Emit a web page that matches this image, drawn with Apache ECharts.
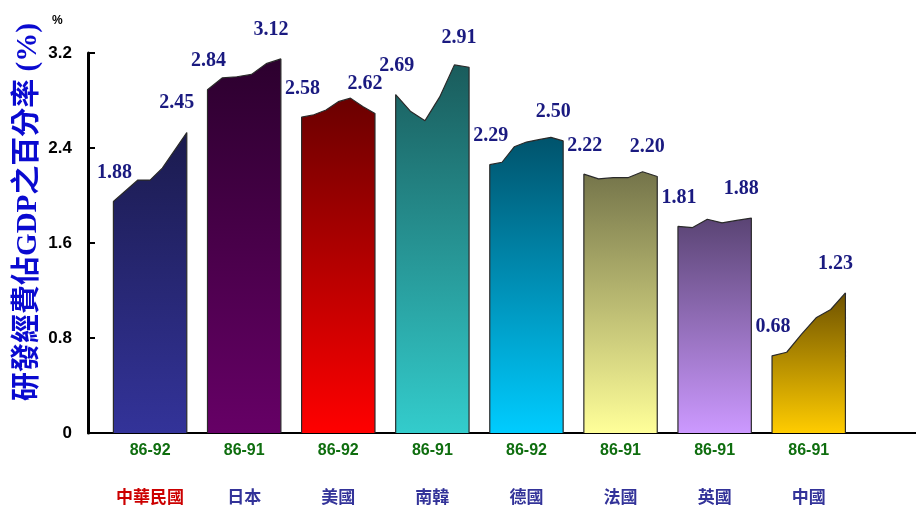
<!DOCTYPE html>
<html><head><meta charset="utf-8">
<script src="https://cdn.jsdelivr.net/npm/echarts@6/dist/echarts.min.js"></script>
<style>html,body{margin:0;padding:0;background:#fff}#c{width:916px;height:506px}</style>
</head><body><div id="c"></div>
<script>
// ---- data ----
const countries = ['中華民國', '日本', '美國', '南韓', '德國', '法國', '英國', '中國'];
const periods = ['86-92', '86-91', '86-92', '86-91', '86-92', '86-91', '86-91', '86-91'];
const twValues = [1.95, 2.04, 2.13, 2.13, 2.23, 2.38, 2.53];
const jpValues = [2.89, 2.99, 3.00, 3.02, 3.11, 3.15];
const usValues = [2.66, 2.68, 2.72, 2.79, 2.82, 2.75, 2.69];
const krValues = [2.85, 2.71, 2.63, 2.83, 3.10, 3.08];
const deValues = [2.26, 2.28, 2.41, 2.45, 2.47, 2.49, 2.46];
const frValues = [2.18, 2.14, 2.15, 2.15, 2.20, 2.16];
const ukValues = [1.74, 1.73, 1.80, 1.77, 1.79, 1.81];
const cnValues = [0.65, 0.68, 0.83, 0.97, 1.04, 1.18];
const firstLabels = ['1.88', '2.84', '2.58', '2.69', '2.29', '2.22', '1.81', '0.68'];
const lastLabels = ['2.45', '3.12', '2.62', '2.91', '2.50', '2.20', '1.88', '1.23'];
const yTicks = [0, 0.8, 1.6, 2.4, 3.2];

// ---- styles ----
const topColors = ['#1b1b4e', '#2c002e', '#6a0000', '#1a5c5c', '#00536c', '#74744a', '#5a4474', '#6e5200'];
const bottomColors = ['#333399', '#660066', '#ff0000', '#33cccc', '#00ccff', '#ffff99', '#cc99ff', '#ffcc00'];
const allValues = [twValues, jpValues, usValues, krValues, deValues, frValues, ukValues, cnValues];
const HALF = 0.39;

const series = allValues.map((vals, i) => {
  const n = vals.length;
  const xs = vals.map((_, k) => i - HALF + (2 * HALF * k) / (n - 1));
  const data = [[xs[0], 0]];
  vals.forEach((v, k) => {
    const item = { value: [xs[k], v] };
    if (k === 0) item.label = { show: true, formatter: firstLabels[i], offset: [1, -13] };
    if (k === n - 1) item.label = { show: true, formatter: lastLabels[i], offset: [-10, -14] };
    data.push(item);
  });
  data.push([xs[n - 1], 0]);
  return {
    type: 'line',
    data,
    symbol: 'circle',
    symbolSize: 1,
    itemStyle: { color: 'rgba(0,0,0,0)' },
    lineStyle: { color: '#2a2a2a', width: 1.2 },
    areaStyle: {
      opacity: 1,
      color: new echarts.graphic.LinearGradient(0, 0, 0, 1, [
        { offset: 0, color: topColors[i] },
        { offset: 1, color: bottomColors[i] }
      ])
    },
    label: {
      show: false,
      position: 'top',
      color: '#1a1a80',
      fontFamily: 'Liberation Serif',
      fontWeight: 'bold',
      fontSize: 20
    },
    emphasis: { disabled: true },
    silent: true,
    animation: false
  };
});

const chart = echarts.init(document.getElementById('c'), null, { renderer: 'canvas' });
chart.setOption({
  animation: false,
  backgroundColor: '#ffffff',
  title: {
    text: '%', left: 47, top: 10,
    textStyle: { fontSize: 12, fontWeight: 'bold', color: '#000', fontFamily: 'Liberation Sans' }
  },
  grid: { left: 88, right: 0, top: 53, bottom: 73, containLabel: false, outerBoundsMode: 'none' },
  xAxis: {
    type: 'value',
    min: -0.66,
    max: 8.14,
    splitLine: { show: false },
    axisLine: { show: true, onZero: false, lineStyle: { color: '#000', width: 2 } },
    axisTick: { show: false },
    axisLabel: {
      customValues: [0, 1, 2, 3, 4, 5, 6, 7],
      margin: 8,
      formatter: (v) => {
        const i = Math.round(v);
        const c = i === 0 ? 'r' : 'c';
        return '{p|' + periods[i] + '}\n{g| }\n{' + c + '|' + countries[i] + '}';
      },
      rich: {
        p: { color: '#0f6e0f', fontSize: 16, fontWeight: 'bold', fontFamily: 'Liberation Sans', lineHeight: 20 },
        g: { lineHeight: 26, fontSize: 10 },
        c: { color: '#333399', fontSize: 17, fontWeight: 'bold', fontFamily: 'Noto Sans CJK TC', lineHeight: 20 },
        r: { color: '#cc0000', fontSize: 17, fontWeight: 'bold', fontFamily: 'Noto Sans CJK TC', lineHeight: 20 }
      }
    }
  },
  yAxis: {
    type: 'value',
    min: yTicks[0],
    max: yTicks[yTicks.length - 1],
    interval: 0.8,
    name: '研發經費佔GDP之百分率 (%)',
    nameLocation: 'middle',
    nameRotate: 90,
    nameGap: 45,
    nameMoveOverlap: false,
    nameTextStyle: {
      color: '#0a0ad0',
      fontSize: 29,
      fontWeight: 'bold',
      fontFamily: 'Liberation Serif, Noto Sans CJK TC',
      padding: [0, 0, 0, 62]
    },
    splitLine: { show: false },
    axisLine: { show: true, onZero: false, lineStyle: { color: '#000', width: 3 } },
    axisTick: { show: true, inside: true, length: 7, lineStyle: { color: '#000', width: 2 } },
    axisLabel: {
      margin: 16,
      color: '#000',
      fontSize: 17,
      fontWeight: 'bold',
      fontFamily: 'Liberation Sans',
      formatter: (v) => (v === 0 ? '0' : v.toFixed(1))
    }
  },
  series
});
</script>
</body></html>
